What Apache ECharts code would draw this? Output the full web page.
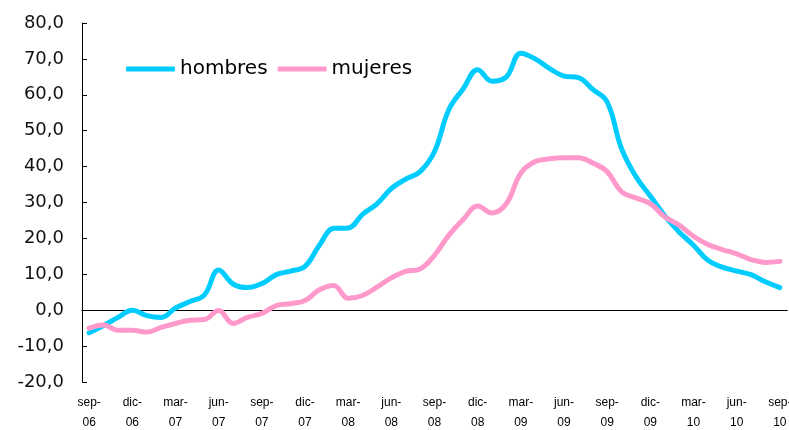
<!DOCTYPE html>
<html>
<head>
<meta charset="utf-8">
<script src="https://cdn.jsdelivr.net/npm/echarts@6.0.0/dist/echarts.min.js"></script>
<style>
  html, body { margin: 0; padding: 0; background: #fff; }
  #myChart { width: 789px; height: 430px; }
</style>
</head>
<body>
<div id="myChart"></div>
<script>
// meses sep-06 .. sep-10
var meses = ['sep', 'oct', 'nov', 'dic', 'ene', 'feb', 'mar', 'abr', 'may', 'jun', 'jul', 'ago']
var categories = []
for (var i = 0; i < 49; i++) {
    var anio = 6 + Math.floor((i + 8) / 12)
    categories.push(meses[i % 12] + '-\n' + (anio < 10 ? '0' + anio : anio))
}

var hombres = [
    -6.3, -4.3, -2.0, 0.0, -1.5, -2.0, 0.6, 2.4, 4.2, 11.2, 7.3, 6.3,
    7.4, 9.9, 10.9, 12.2, 18.1, 22.8, 22.9, 26.7, 29.6, 33.9, 36.5, 38.6,
    44.2, 55.9, 61.7, 67.0, 63.8, 65.0, 71.6, 70.0, 67.3, 65.2, 64.8, 61.5,
    58.0, 45.0, 37.2, 31.8, 26.3, 21.8, 18.1, 13.9, 12.0, 10.9, 9.9, 7.9,
    6.3
]
var mujeres = [
    -5.0, -4.1, -5.6, -5.6, -6.1, -4.8, -3.7, -2.8, -2.6, -0.1, -3.7, -2.0,
    -0.9, 1.3, 1.8, 2.7, 5.7, 6.9, 3.3, 4.1, 6.4, 9.0, 10.8, 11.5,
    15.3, 20.9, 25.3, 29.0, 27.1, 29.7, 38.2, 41.4, 42.2, 42.5, 42.5, 41.0,
    38.6, 33.0, 31.3, 29.7, 26.0, 23.7, 20.6, 18.3, 16.9, 15.7, 14.1, 13.3,
    13.6
]

var yMin = -20
var yMax = 80
var yStep = 10

var myChart = echarts.init(document.getElementById('myChart'))
myChart.setOption({
    animation: false,
    grid: { left: 82, right: 2, top: 23, bottom: 48, outerBoundsMode: 'none' },
    legend: {
        left: 121,
        top: 54,
        icon: 'roundRect',
        itemWidth: 49,
        itemHeight: 5,
        itemGap: 10,
        textStyle: { fontFamily: 'DejaVu Sans', fontSize: 20, color: '#000' },
        data: ['hombres', 'mujeres']
    },
    xAxis: [
        {
            // etiquetas abajo
            type: 'category',
            data: categories,
            boundaryGap: true,
            axisLine: { show: false, onZero: false },
            axisTick: { show: false },
            axisLabel: {
                interval: 2,
                margin: 11,
                fontFamily: 'Liberation Sans',
                fontSize: 12,
                lineHeight: 20,
                color: '#000'
            }
        },
        {
            // eje en cero, marcas menores
            type: 'category',
            data: categories,
            boundaryGap: true,
            axisLine: { onZero: true, onZeroAxisIndex: 0, lineStyle: { color: '#000', width: 1 } },
            axisTick: { interval: 0, inside: true, length: 3, lineStyle: { color: '#000' } },
            axisLabel: { show: false }
        },
        {
            // marcas mayores
            type: 'category',
            data: categories,
            boundaryGap: true,
            axisLine: { onZero: true, onZeroAxisIndex: 0, lineStyle: { color: '#000', width: 1 } },
            axisTick: { interval: 2, length: 4, lineStyle: { color: '#000' } },
            axisLabel: { show: false }
        }
    ],
    yAxis: {
        type: 'value',
        min: yMin,
        max: yMax,
        interval: yStep,
        splitLine: { show: false },
        axisLine: { show: true, onZero: false, lineStyle: { color: '#000', width: 1 } },
        axisTick: { show: true, inside: true, length: 5, lineStyle: { color: '#000' } },
        axisLabel: {
            margin: 18,
            fontFamily: 'DejaVu Sans',
            fontSize: 18,
            color: '#111',
            formatter: function (v) { return v.toFixed(1).replace('.', ',') }
        }
    },
    series: [
        {
            name: 'hombres',
            type: 'line',
            data: hombres,
            smooth: 0.4,
            showSymbol: false,
            color: '#00CCFF',
            lineStyle: { width: 5, color: '#00CCFF', cap: 'round', join: 'round' }
        },
        {
            name: 'mujeres',
            type: 'line',
            data: mujeres,
            smooth: 0.4,
            showSymbol: false,
            color: '#FF99CC',
            lineStyle: { width: 5, color: '#FF99CC', cap: 'round', join: 'round' }
        }
    ]
})
</script>
</body>
</html>
